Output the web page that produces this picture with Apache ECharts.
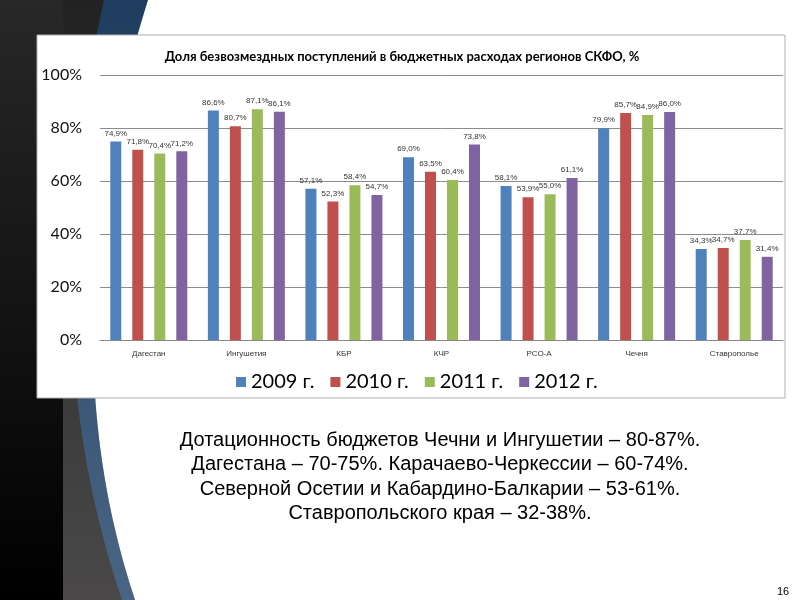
<!DOCTYPE html>
<html>
<head>
<meta charset="utf-8">
<script src="https://cdn.jsdelivr.net/npm/echarts@6/dist/echarts.min.js"></script>
<style>html,body{margin:0;padding:0;background:#fff;}#c{width:800px;height:600px;}</style>
</head>
<body>
<div id="c"></div>
<script>
const categories = ['Дагестан', 'Ингушетия', 'КБР', 'КЧР', 'РСО-А', 'Чечня', 'Ставрополье'];
const seriesNames = ['2009 г.', '2010 г.', '2011 г.', '2012 г.'];
const v2009 = [74.9, 86.6, 57.1, 69.0, 58.1, 79.9, 34.3];
const v2010 = [71.8, 80.7, 52.3, 63.5, 53.9, 85.7, 34.7];
const v2011 = [70.4, 87.1, 58.4, 60.4, 55.0, 84.9, 37.7];
const v2012 = [71.2, 86.1, 54.7, 73.8, 61.1, 86.0, 31.4];
const yTicks = [0, 20, 40, 60, 80, 100];
const titleText = 'Доля безвозмездных поступлений в бюджетных расходах регионов СКФО, %';
const noteLines = [
  'Дотационность бюджетов Чечни и Ингушетии – 80-87%.',
  'Дагестана – 70-75%. Карачаево-Черкессии – 60-74%.',
  'Северной Осетии и Кабардино-Балкарии – 53-61%.',
  'Ставропольского края – 32-38%.'
];
const pageNum = '16';

const colors = ['#4F81BD', '#C0504D', '#9BBB59', '#8064A2'];
const allValues = [v2009, v2010, v2011, v2012];

const chart = echarts.init(document.getElementById('c'), null, {renderer: 'canvas'});

const series = allValues.map((vals, i) => ({
  name: seriesNames[i],
  type: 'bar',
  data: vals,
  barWidth: 11,
  barGap: '100%',
  itemStyle: {color: colors[i]},
  label: {
    show: true,
    position: 'top',
    distance: 4,
    fontSize: 8,
    fontFamily: 'Liberation Sans',
    color: '#333',
    formatter: p => p.value.toFixed(1).replace('.', ',') + '%'
  }
}));

// decorative curved edge of the slide background (quadratic curve sampled to polygon points)
function quad(p0, c, p1, n) {
  const pts = [];
  for (let k = 0; k <= n; k++) {
    const t = k / n, a = (1 - t) * (1 - t), b = 2 * (1 - t) * t, d = t * t;
    pts.push([a * p0[0] + b * c[0] + d * p1[0], a * p0[1] + b * c[1] + d * p1[1]]);
  }
  return pts;
}
const blueEdge = quad([148, 0], [45, 330], [135, 600], 40);
const grayEdge = quad([104, 0], [30, 330], [122, 600], 40);

const lg = (c1, c2) => new echarts.graphic.LinearGradient(0, 0, 0, 1, [{offset: 0, color: c1}, {offset: 1, color: c2}]);

const graphic = [
  {type: 'rect', z: -20, shape: {x: 0, y: 0, width: 160, height: 600}, style: {fill: lg('#2a2a2a', '#000')}},
  {type: 'polygon', z: -19, shape: {points: [[0, 0]].concat(blueEdge, [[0, 600]])}, style: {fill: lg('#1f3d5e', '#4a6584')}},
  {type: 'polygon', z: -19, shape: {points: [[800, 0]].concat(blueEdge, [[800, 600]])}, style: {fill: '#fff'}},
  {type: 'polygon', z: -18, shape: {points: [[0, 0]].concat(grayEdge, [[0, 600]])}, style: {fill: lg('#222222', '#4a4848')}},
  {type: 'rect', z: -17, shape: {x: 0, y: 0, width: 63, height: 600}, style: {fill: lg('#282828', '#000')}},
  {type: 'rect', z: -10, shape: {x: 37, y: 35, width: 748, height: 363}, style: {fill: '#fff', stroke: '#b0b0b0', lineWidth: 1}}
].concat(noteLines.map((t, i) => ({
  type: 'text', z: 10,
  style: {text: t, x: 440, y: 440 + i * 24.5, textAlign: 'center', textVerticalAlign: 'middle',
          fontSize: 20, fontFamily: 'Liberation Sans', fill: '#000'}
})), [{
  type: 'text', z: 10,
  style: {text: pageNum, x: 783, y: 592, textAlign: 'center', textVerticalAlign: 'middle',
          fontSize: 11, fontFamily: 'Liberation Sans', fill: '#000'}
}]);

chart.setOption({
  backgroundColor: 'transparent',
  animation: false,
  color: colors,
  title: {
    text: titleText,
    left: 397, top: 45, textAlign: 'center',
    textStyle: {fontSize: 13, fontWeight: 'bold', fontFamily: 'Lato', color: '#000'}
  },
  legend: {
    data: seriesNames,
    left: 231, top: 367,
    itemWidth: 10, itemHeight: 10, itemGap: 16,
    icon: 'rect',
    textStyle: {fontSize: 20, fontFamily: 'Lato', color: '#000'}
  },
  grid: {left: 100, right: 17, top: 75, bottom: 260, containLabel: false},
  xAxis: {
    type: 'category',
    data: categories,
    axisLine: {lineStyle: {color: '#888'}},
    axisTick: {show: false},
    axisLabel: {fontSize: 8, fontFamily: 'Liberation Sans', color: '#333', margin: 10, interval: 0}
  },
  yAxis: {
    type: 'value',
    min: yTicks[0], max: yTicks[yTicks.length - 1], interval: 20,
    axisLine: {show: false},
    axisTick: {show: false},
    axisLabel: {formatter: '{value}%', fontSize: 16, fontFamily: 'Lato', color: '#111', margin: 18},
    splitLine: {lineStyle: {color: '#8c8c8c', width: 1}}
  },
  graphic: graphic,
  series: series
});
</script>
</body>
</html>
